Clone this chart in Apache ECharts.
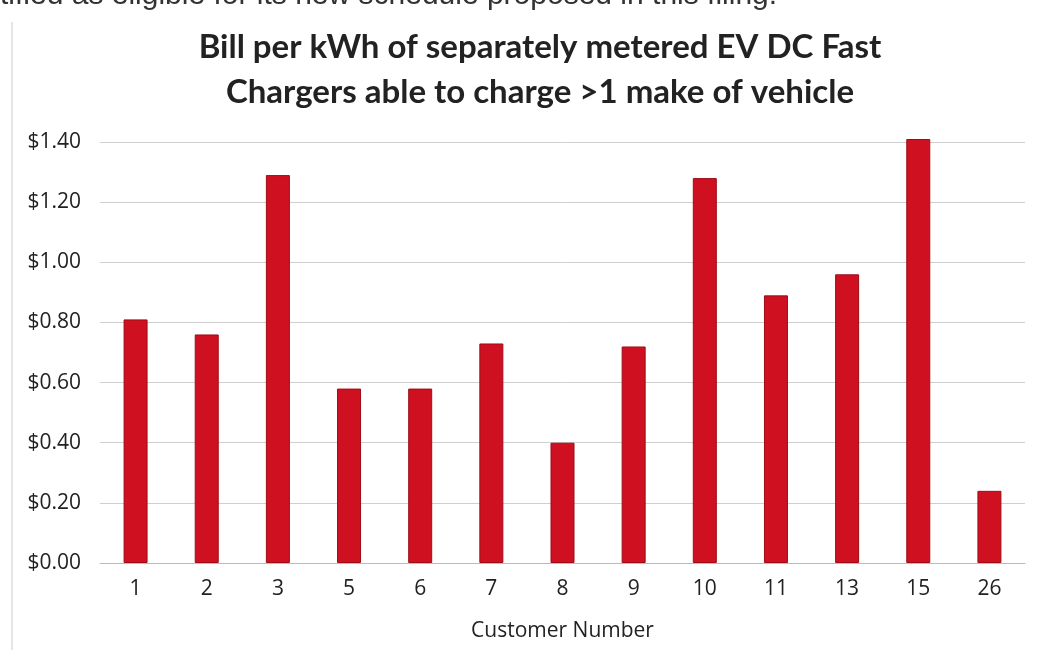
<!DOCTYPE html>
<html>
<head>
<meta charset="utf-8">
<script src="https://cdn.jsdelivr.net/npm/echarts@6/dist/echarts.min.js"></script>
<style>
  html, body { margin: 0; padding: 0; background: #fff; }
  #main { width: 1038px; height: 666px; }
</style>
</head>
<body>
<div id="main"></div>
<script>
  // customers and their bill per kWh
  var customers = ['1', '2', '3', '5', '6', '7', '8', '9', '10', '11', '13', '15', '26'];
  var billPerKwh = [0.81, 0.76, 1.29, 0.58, 0.58, 0.73, 0.40, 0.72, 1.28, 0.89, 0.96, 1.41, 0.24];
  var yTicks = [0, 0.2, 0.4, 0.6, 0.8, 1.0, 1.2, 1.4];

  var chart = echarts.init(document.getElementById('main'));
  var option = {
    backgroundColor: '#fff',
    animation: false,
    title: {
      text: 'Bill per kWh of separately metered EV DC Fast\nChargers able to charge >1 make of vehicle',
      left: 535,
      textAlign: 'center',
      top: 20,
      textStyle: {
        fontFamily: 'Lato',
        fontWeight: 'bold',
        fontSize: 33,
        lineHeight: 45,
        color: '#222'
      }
    },
    graphic: [
      {
        type: 'text',
        left: 0,
        top: -19,
        style: {
          text: 'tified as eligible for its new schedule proposed in this filing.',
          font: '30px "Liberation Sans"',
          fill: '#333'
        }
      },
      {
        type: 'line',
        shape: { x1: 12, y1: 22, x2: 12, y2: 650 },
        style: { stroke: '#ccc', lineWidth: 1 }
      }
    ],
    grid: {
      left: 100,
      right: 13,
      top: 142,
      bottom: 103
    },
    xAxis: {
      type: 'category',
      data: customers,
      name: 'Customer Number',
      nameLocation: 'middle',
      nameGap: 58,
      nameTextStyle: { fontFamily: 'Open Sans', fontSize: 21, color: '#222' },
      axisTick: { show: false },
      axisLine: { lineStyle: { color: '#bbb' } },
      axisLabel: {
        fontFamily: 'Open Sans',
        fontSize: 21,
        color: '#222',
        margin: 16
      }
    },
    yAxis: {
      type: 'value',
      min: yTicks[0],
      max: yTicks[yTicks.length - 1],
      interval: 0.2,
      axisLine: { show: false },
      axisTick: { show: false },
      splitLine: { lineStyle: { color: '#cfcfcf', width: 1 } },
      axisLabel: {
        fontFamily: 'Open Sans',
        fontSize: 21,
        color: '#222',
        margin: 19,
        formatter: function (v) { return '$' + v.toFixed(2); }
      }
    },
    series: [
      {
        type: 'bar',
        data: billPerKwh,
        barWidth: 24,
        clip: false,
        itemStyle: {
          color: '#cf1020',
          borderColor: '#9e0d16',
          borderWidth: 1
        }
      }
    ]
  };
  chart.setOption(option);
</script>
</body>
</html>
